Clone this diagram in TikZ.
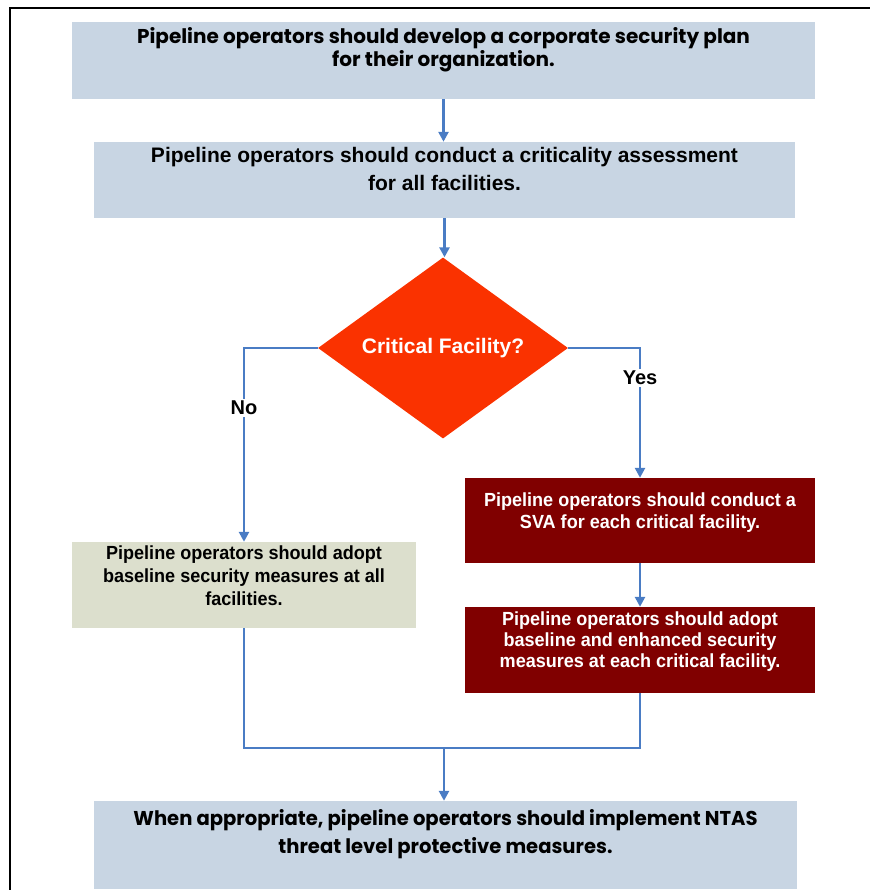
\documentclass[tikz,border=0pt]{standalone}
\usepackage{fontspec}
\setmainfont{Liberation Sans}
% slightly narrowed sans for the step boxes, geometric sans for the framing boxes
\newfontfamily\stepfont[FakeStretch=0.95]{Liberation Sans}
\newfontfamily\headfont{Poppins}
\newfontfamily\footfont[FakeStretch=0.978]{Poppins}
\usetikzlibrary{arrows.meta,shapes.geometric,calc}

\definecolor{boxblue}{HTML}{C8D5E3}
\definecolor{boxsand}{HTML}{DCDFCD}
\definecolor{boxred}{HTML}{800000}
\definecolor{decision}{HTML}{FA3200}
\definecolor{flow}{HTML}{4A7CC4}

\tikzset{
  panel/.style={rectangle, inner sep=0pt, draw=none},
  flowline/.style={draw=flow, line width=2.5pt},
  arrowline/.style={flowline, -{Triangle[length=10pt,width=10pt]}},
  txt/.style={inner sep=0pt, align=center, anchor=north},
  headtxt/.style={txt, font=\headfont\bfseries\fontsize{20}{23}\selectfont},
  steptxt/.style={txt, font=\stepfont\bfseries\fontsize{19}{23}\selectfont},
  branch/.style={fill=white, inner sep=2pt, font=\bfseries\fontsize{20}{22}\selectfont}
}

\begin{document}
\begin{tikzpicture}[x=1pt,y=-1pt]
\path[use as bounding box] (0,0) rectangle (870,890);

% page frame (top and left edges)
\draw[line width=2.5pt] (10,890) -- (10,8) -- (870,8);

% boxes
\node[panel, fill=boxblue, minimum width=743pt, minimum height=77pt] (plan) at (443.5,60.5) {};
\node[panel, fill=boxblue, minimum width=701pt, minimum height=76pt] (assess) at (444.5,180) {};
\node[diamond, fill=decision, inner sep=0pt, minimum width=250pt, minimum height=181pt,
      aspect=1.38, text=white, font=\bfseries\fontsize{21}{23}\selectfont]
      (crit) at (443,348) {Critical Facility?};
\node[panel, fill=boxsand, minimum width=344pt, minimum height=86pt] (base) at (244,585) {};
\node[panel, fill=boxred, minimum width=350pt, minimum height=85pt] (sva) at (640,520.5) {};
\node[panel, fill=boxred, minimum width=350pt, minimum height=86pt] (adopt) at (640,650) {};
\node[panel, fill=boxblue, minimum width=703pt, minimum height=88pt] (ntas) at (445.5,845) {};

% box texts
\node[headtxt] at ([yshift=-5pt]plan.north)
  {Pipeline operators should develop a corporate security plan\\for their organization.};
\node[txt, font=\bfseries\fontsize{21}{28}\selectfont] at ([yshift=-4.8pt]assess.north)
  {Pipeline operators should conduct a criticality assessment\\for all facilities.};
\node[steptxt] at ([yshift=-4pt]base.north)
  {Pipeline operators should adopt\\baseline security measures at all\\facilities.};
\node[steptxt, text=white, font=\stepfont\bfseries\fontsize{19}{22}\selectfont] at ([yshift=-14.5pt]sva.north)
  {Pipeline operators should conduct a\\SVA for each critical facility.};
\node[steptxt, text=white, font=\stepfont\bfseries\fontsize{19}{21}\selectfont] at ([yshift=-5pt]adopt.north)
  {Pipeline operators should adopt\\baseline and enhanced security\\measures at each critical facility.};
\node[txt, font=\footfont\bfseries\fontsize{20}{28}\selectfont] at ([yshift=-8pt]ntas.north)
  {When appropriate, pipeline operators should implement NTAS\\threat level protective measures.};

% connectors
\draw[arrowline] (plan.south) -- (plan.south |- assess.north);
\draw[arrowline] (assess.south) -- (assess.south |- crit.north);
\draw[arrowline] (crit.west) -| (base.north) node[branch, pos=0.655] {No};
\draw[arrowline] (crit.east) -| (sva.north) node[branch, pos=0.615] {Yes};
\draw[arrowline] (sva) -- (adopt);
\coordinate (join) at (444,748);
\draw[flowline] (base.south) |- (join) -| (adopt.south);
\draw[arrowline] (join) -- (join |- ntas.north);
\end{tikzpicture}
\end{document}
